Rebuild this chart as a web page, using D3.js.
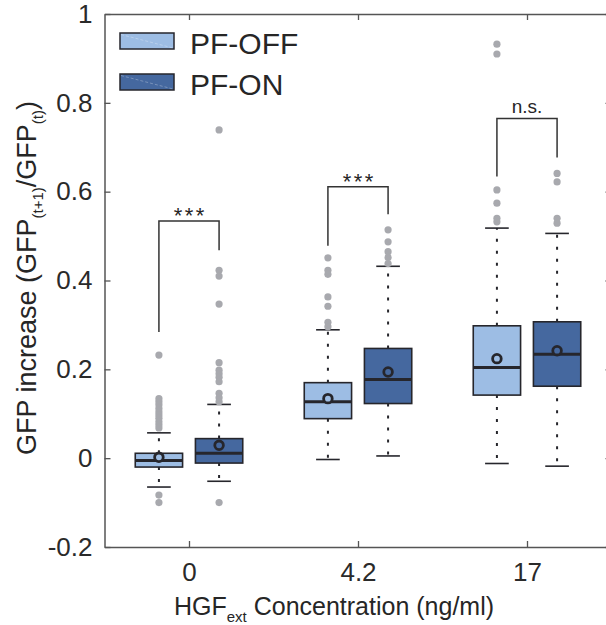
<!DOCTYPE html>
<html>
<head>
<meta charset="utf-8">
<script src="https://cdn.jsdelivr.net/npm/d3@7"></script>
<style>
  body { margin: 0; background: #fff; }
  svg { font-family: "Liberation Sans", Arial, Helvetica, sans-serif; }
</style>
</head>
<body>
<svg id="chart" width="606" height="625"></svg>
<script>
// ---- data ----
const categories = ["0", "4.2", "17"];
const seriesNames = ["PF-OFF", "PF-ON"];
const seriesColors = ["#9dbde4", "#45689f"];
const yTicks = [-0.2, 0, 0.2, 0.4, 0.6, 0.8, 1];

// PF-OFF box stats per concentration
const offLow    = [-0.065, -0.003, -0.012];
const offQ1     = [-0.020,  0.089,  0.142];
const offMedian = [-0.005,  0.127,  0.204];
const offQ3     = [ 0.011,  0.170,  0.298];
const offHigh   = [ 0.057,  0.289,  0.518];
const offMean   = [ 0.002,  0.134,  0.224];
const offOutliers = [
  [0.232, 0.134, 0.127, 0.120, 0.112, 0.104, 0.097, 0.090, 0.082, 0.075, 0.068, -0.083, -0.100],
  [0.451, 0.423, 0.414, 0.363, 0.342, 0.306, 0.296],
  [0.932, 0.910, 0.604, 0.574, 0.540, 0.532]
];

// PF-ON box stats per concentration
const onLow    = [-0.052, 0.005, -0.018];
const onQ1     = [-0.011, 0.123,  0.162];
const onMedian = [ 0.011, 0.177,  0.234];
const onQ3     = [ 0.044, 0.247,  0.307];
const onHigh   = [ 0.121, 0.432,  0.506];
const onMean   = [ 0.029, 0.194,  0.242];
const onOutliers = [
  [0.739, 0.423, 0.410, 0.347, 0.215, 0.198, 0.190, 0.182, 0.172, 0.146, 0.136, 0.127, -0.100],
  [0.514, 0.487, 0.465, 0.452, 0.438],
  [0.641, 0.622, 0.540, 0.529]
];

// significance brackets
const bracketTop   = [0.534, 0.611, 0.765];
const bracketLeft  = [0.284, 0.478, 0.634];
const bracketRight = [0.468, 0.549, 0.677];
const sigLabels    = ["***", "***", "n.s."];

// ---- layout ----
const svg = d3.select("#chart");
const x = d3.scaleLinear().domain([0.5, 3.5]).range([104.5, 611.5]);
const y = d3.scaleLinear().domain([-0.2, 1]).range([547, 14]);
const OFFSET = 0.178, BOX_W = 0.28, CAP_W = 0.14;
const INK = "#26262c", AXIS = "#555", DOT = "#a8a9ae";

const groups = [
  { low: offLow, q1: offQ1, med: offMedian, q3: offQ3, high: offHigh, mean: offMean, out: offOutliers, dx: -OFFSET, color: seriesColors[0] },
  { low: onLow,  q1: onQ1,  med: onMedian,  q3: onQ3,  high: onHigh,  mean: onMean,  out: onOutliers,  dx:  OFFSET, color: seriesColors[1] }
];

// axes (ticks point inward, box frame)
const xTickVals = categories.map((c, i) => i + 1);
const axL = svg.append("g").attr("transform", `translate(${x(0.5)},0)`)
  .call(d3.axisLeft(y).tickValues(yTicks).tickFormat(d => String(d)).tickSize(-6).tickSizeOuter(0).tickPadding(12));
const axB = svg.append("g").attr("transform", `translate(0,${y(-0.2)})`)
  .call(d3.axisBottom(x).tickValues(xTickVals).tickFormat((d, i) => categories[i]).tickSize(-6).tickSizeOuter(0).tickPadding(16));
const axT = svg.append("g").attr("transform", `translate(0,${y(1)})`)
  .call(d3.axisTop(x).tickValues(xTickVals).tickFormat("").tickSize(-6).tickSizeOuter(0));
const axR = svg.append("g").attr("transform", `translate(${x(3.5)},0)`)
  .call(d3.axisRight(y).tickValues(yTicks).tickFormat("").tickSize(-6).tickSizeOuter(0));
[axL, axB, axT, axR].forEach(a => {
  a.select(".domain").attr("stroke", AXIS).attr("stroke-width", 1.5);
  a.selectAll(".tick line").attr("stroke", AXIS).attr("stroke-width", 1.3);
  a.selectAll(".tick text").attr("fill", "#2a2a2a").style("font-size", "26px")
    .style("font-family", "'Liberation Sans', Arial, sans-serif");
});

const plot = svg.append("g");

groups.forEach(s => {
  categories.forEach((c, i) => {
    const cx = i + 1 + s.dx;
    // whiskers
    plot.append("line")
      .attr("x1", x(cx)).attr("x2", x(cx))
      .attr("y1", y(s.q3[i])).attr("y2", y(s.high[i]))
      .attr("stroke", INK).attr("stroke-width", 2).attr("stroke-dasharray", "3,9");
    plot.append("line")
      .attr("x1", x(cx)).attr("x2", x(cx))
      .attr("y1", y(s.q1[i])).attr("y2", y(s.low[i]))
      .attr("stroke", INK).attr("stroke-width", 2).attr("stroke-dasharray", "3,9");
    [s.high[i], s.low[i]].forEach(v => {
      plot.append("line")
        .attr("x1", x(cx - CAP_W / 2)).attr("x2", x(cx + CAP_W / 2))
        .attr("y1", y(v)).attr("y2", y(v))
        .attr("stroke", INK).attr("stroke-width", 1.6);
    });
    // outliers
    plot.selectAll(null).data(s.out[i]).enter().append("circle")
      .attr("cx", x(cx)).attr("cy", d => y(d)).attr("r", 3.6)
      .attr("fill", DOT);
    // box
    plot.append("rect")
      .attr("x", x(cx - BOX_W / 2)).attr("width", x(cx + BOX_W / 2) - x(cx - BOX_W / 2))
      .attr("y", y(s.q3[i])).attr("height", y(s.q1[i]) - y(s.q3[i]))
      .attr("fill", s.color).attr("stroke", INK).attr("stroke-width", 1.6);
    plot.append("line")
      .attr("x1", x(cx - BOX_W / 2)).attr("x2", x(cx + BOX_W / 2))
      .attr("y1", y(s.med[i])).attr("y2", y(s.med[i]))
      .attr("stroke", INK).attr("stroke-width", 3);
    plot.append("circle")
      .attr("cx", x(cx)).attr("cy", y(s.mean[i])).attr("r", 4.3)
      .attr("fill", s.color).attr("stroke", INK).attr("stroke-width", 2.8);
  });
});

// significance brackets
categories.forEach((c, i) => {
  const xl = x(i + 1 - OFFSET), xr = x(i + 1 + OFFSET);
  plot.append("path")
    .attr("d", `M${xl},${y(bracketLeft[i])}V${y(bracketTop[i])}H${xr}V${y(bracketRight[i])}`)
    .attr("fill", "none").attr("stroke", "#333").attr("stroke-width", 1.5);
  const stars = sigLabels[i] === "***";
  plot.append("text")
    .attr("x", (xl + xr) / 2).attr("y", y(bracketTop[i]) + (stars ? 2 : -5))
    .attr("dx", stars ? 1.25 : 0)
    .attr("text-anchor", "middle").attr("fill", "#262626")
    .style("font-size", stars ? "22px" : "19px")
    .style("letter-spacing", stars ? "2.5px" : "0px")
    .text(sigLabels[i]);
});

// legend
const leg = svg.append("g");
seriesNames.forEach((name, i) => {
  const ly = 33 + i * 41;
  leg.append("rect").attr("x", 120).attr("y", ly).attr("width", 54).attr("height", 16)
    .attr("fill", seriesColors[i]).attr("stroke", INK).attr("stroke-width", 1.5);
  leg.append("line").attr("x1", 121).attr("y1", ly + 1.5).attr("x2", 173).attr("y2", ly + 15)
    .attr("stroke", "#fff").attr("stroke-opacity", 0.35).attr("stroke-width", 0.8)
    .attr("stroke-dasharray", "3,2");
  leg.append("text").attr("x", 190).attr("y", ly + 20.5)
    .attr("fill", "#262626").style("font-size", "30px").text(name);
});

// axis titles
const yt = svg.append("text")
  .attr("transform", "translate(36,278) rotate(-90)")
  .attr("text-anchor", "middle").attr("fill", "#262626").style("font-size", "27px");
yt.append("tspan").text("GFP increase (GFP");
yt.append("tspan").attr("dy", 7).style("font-size", "15px").text("(t+1)");
yt.append("tspan").attr("dy", -7).text("/GFP");
yt.append("tspan").attr("dy", 7).style("font-size", "15px").text("(t)");
yt.append("tspan").attr("dy", -7).text(")");

const xt = svg.append("text")
  .attr("x", 334).attr("y", 615)
  .attr("text-anchor", "middle").attr("fill", "#262626").style("font-size", "25px");
xt.append("tspan").text("HGF");
xt.append("tspan").attr("dy", 7).style("font-size", "15px").text("ext");
xt.append("tspan").attr("dy", -7).text(" Concentration (ng/ml)");
</script>
</body>
</html>
